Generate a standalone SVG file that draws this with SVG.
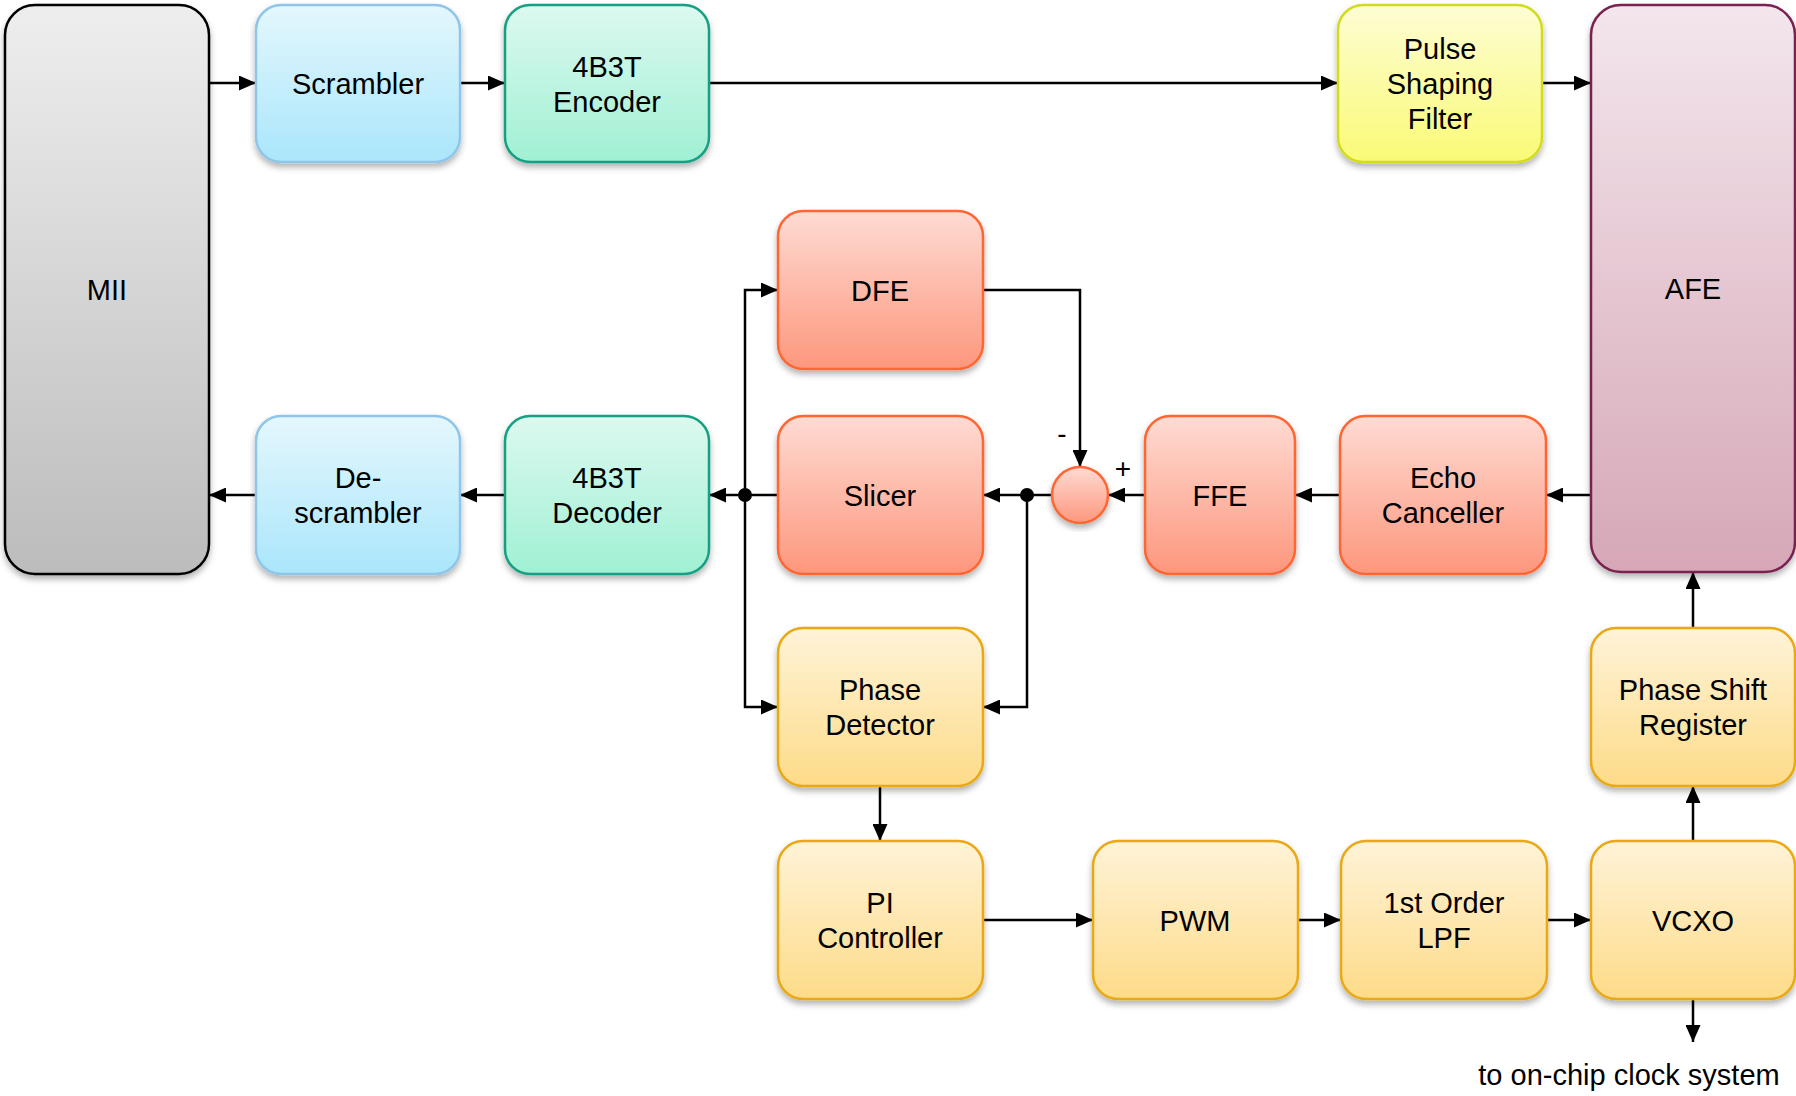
<svg xmlns="http://www.w3.org/2000/svg" width="1796" height="1096" viewBox="0 0 1796 1096">
<defs>
<linearGradient id="gGray" x1="0" y1="0" x2="0" y2="1"><stop offset="0" stop-color="#eeeeee"/><stop offset="1" stop-color="#bcbcbc"/></linearGradient>
<linearGradient id="gBlue" x1="0" y1="0" x2="0" y2="1"><stop offset="0" stop-color="#e4f7fd"/><stop offset="1" stop-color="#aae6fb"/></linearGradient>
<linearGradient id="gGreen" x1="0" y1="0" x2="0" y2="1"><stop offset="0" stop-color="#ddf9ef"/><stop offset="1" stop-color="#a0f0d4"/></linearGradient>
<linearGradient id="gYellow" x1="0" y1="0" x2="0" y2="1"><stop offset="0" stop-color="#fdfdd4"/><stop offset="1" stop-color="#fafa76"/></linearGradient>
<linearGradient id="gRed" x1="0" y1="0" x2="0" y2="1"><stop offset="0" stop-color="#fedbd3"/><stop offset="1" stop-color="#fd977d"/></linearGradient>
<linearGradient id="gOrange" x1="0" y1="0" x2="0" y2="1"><stop offset="0" stop-color="#fff3d8"/><stop offset="1" stop-color="#fddb88"/></linearGradient>
<linearGradient id="gPurple" x1="0" y1="0" x2="0" y2="1"><stop offset="0" stop-color="#f3e6ec"/><stop offset="1" stop-color="#d6a7b7"/></linearGradient>
<filter id="shadow" x="-10%" y="-10%" width="120%" height="125%">
<feDropShadow dx="0" dy="4" stdDeviation="3" flood-color="#000" flood-opacity="0.3"/>
</filter>
<marker id="arrow" markerUnits="userSpaceOnUse" markerWidth="17" markerHeight="15" refX="17" refY="7.5" orient="auto">
<path d="M0,0 L17,7.5 L0,15 Z" fill="#000"/>
</marker>
<style>
.box{stroke-width:2.5;filter:url(#shadow)}
.gray{fill:url(#gGray);stroke:#000}
.blue{fill:url(#gBlue);stroke:#8ec5e8}
.green{fill:url(#gGreen);stroke:#17a083}
.yellow{fill:url(#gYellow);stroke:#d3dc1a}
.red{fill:url(#gRed);stroke:#ff6633}
.orange{fill:url(#gOrange);stroke:#e9a912}
.purple{fill:url(#gPurple);stroke:#7a2150}
text{font-family:"Liberation Sans",Arial,sans-serif;font-size:29px;fill:#000;text-anchor:middle}
.conn path{fill:none;stroke:#000;stroke-width:2.5}
.conn path.a{marker-end:url(#arrow)}
.dot{fill:#000}
.sign{font-size:28px}
</style>
</defs>

<g id="connectors" class="conn">
<path class="a" d="M209,83 H256"/>
<path class="a" d="M460,83 H505"/>
<path class="a" d="M709,83 H1338"/>
<path class="a" d="M1542,83 H1591"/>
<path class="a" d="M1591,495 H1546"/>
<path class="a" d="M1340,495 H1295"/>
<path class="a" d="M1145,495 H1108"/>
<path class="a" d="M1052,495 H983"/>
<path class="a" d="M983,290 H1080 V467"/>
<path class="a" d="M1027,495 V707 H983"/>
<path class="a" d="M778,495 H709"/>
<path class="a" d="M745,495 V290 H778"/>
<path class="a" d="M745,495 V707 H778"/>
<path class="a" d="M505,495 H460"/>
<path class="a" d="M256,495 H209"/>
<path class="a" d="M880,786 V841"/>
<path class="a" d="M983,920 H1093"/>
<path class="a" d="M1298,920 H1341"/>
<path class="a" d="M1547,920 H1591"/>
<path class="a" d="M1693,841 V786"/>
<path class="a" d="M1693,628 V572"/>
<path class="a" d="M1693,999 V1042"/>
<circle class="dot" cx="745" cy="495" r="7"/>
<circle class="dot" cx="1027" cy="495" r="7"/>
<text class="sign" x="1062" y="443">-</text>
<text class="sign" x="1123" y="478">+</text>
</g>

<g id="mii"><rect class="box gray" x="5" y="5" width="204" height="569" rx="30"/><text x="107" y="300">MII</text></g>
<g id="scrambler"><rect class="box blue" x="256" y="5" width="204" height="157" rx="25"/><text x="358" y="94">Scrambler</text></g>
<g id="encoder"><rect class="box green" x="505" y="5" width="204" height="157" rx="25"/><text x="607" y="76.5">4B3T</text><text x="607" y="111.5">Encoder</text></g>
<g id="psf"><rect class="box yellow" x="1338" y="5" width="204" height="157" rx="25"/><text x="1440" y="59">Pulse</text><text x="1440" y="94">Shaping</text><text x="1440" y="129">Filter</text></g>
<g id="afe"><rect class="box purple" x="1591" y="5" width="204" height="567" rx="30"/><text x="1693" y="299">AFE</text></g>
<g id="dfe"><rect class="box red" x="778" y="211" width="205" height="158" rx="25"/><text x="880" y="300.5">DFE</text></g>
<g id="descrambler"><rect class="box blue" x="256" y="416" width="204" height="158" rx="25"/><text x="358" y="488">De-</text><text x="358" y="523">scrambler</text></g>
<g id="decoder"><rect class="box green" x="505" y="416" width="204" height="158" rx="25"/><text x="607" y="488">4B3T</text><text x="607" y="523">Decoder</text></g>
<g id="slicer"><rect class="box red" x="778" y="416" width="205" height="158" rx="25"/><text x="880" y="505.5">Slicer</text></g>
<g id="sum"><circle class="box red" cx="1080" cy="495" r="28"/></g>
<g id="ffe"><rect class="box red" x="1145" y="416" width="150" height="158" rx="25"/><text x="1220" y="505.5">FFE</text></g>
<g id="echo"><rect class="box red" x="1340" y="416" width="206" height="158" rx="25"/><text x="1443" y="488">Echo</text><text x="1443" y="523">Canceller</text></g>
<g id="pd"><rect class="box orange" x="778" y="628" width="205" height="158" rx="25"/><text x="880" y="700">Phase</text><text x="880" y="735">Detector</text></g>
<g id="psr"><rect class="box orange" x="1591" y="628" width="204" height="158" rx="25"/><text x="1693" y="700">Phase Shift</text><text x="1693" y="735">Register</text></g>
<g id="pi"><rect class="box orange" x="778" y="841" width="205" height="158" rx="25"/><text x="880" y="913">PI</text><text x="880" y="948">Controller</text></g>
<g id="pwm"><rect class="box orange" x="1093" y="841" width="205" height="158" rx="25"/><text x="1195" y="930.5">PWM</text></g>
<g id="lpf"><rect class="box orange" x="1341" y="841" width="206" height="158" rx="25"/><text x="1444" y="913">1st Order</text><text x="1444" y="948">LPF</text></g>
<g id="vcxo"><rect class="box orange" x="1591" y="841" width="204" height="158" rx="25"/><text x="1693" y="930.5">VCXO</text></g>
<g id="clock-label"><text x="1629" y="1085">to on-chip clock system</text></g>
</svg>
